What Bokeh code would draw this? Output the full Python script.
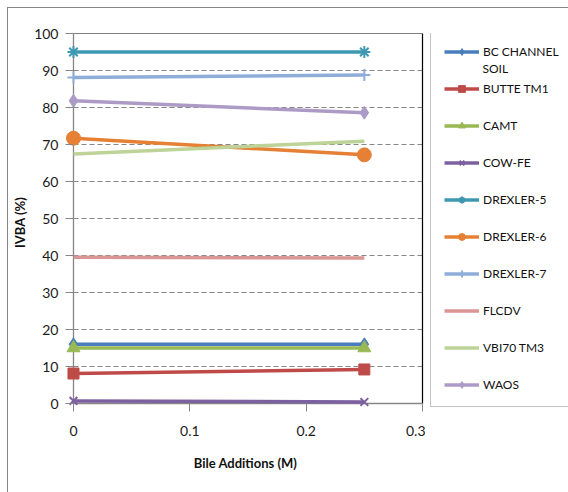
from bokeh.plotting import figure
from bokeh.layouts import row
from bokeh.models import Range1d, FixedTicker, Legend, LegendItem, Label
from bokeh.embed import file_html
from bokeh.resources import INLINE

# ---- data ----
bile = [0, 0.25]
series_names = ["BC CHANNEL", "BUTTE TM1", "CAMT", "COW-FE", "DREXLER-5",
                "DREXLER-6", "DREXLER-7", "FLCDV", "VBI70 TM3", "WAOS"]
first_name_second_line = "SOIL"
bc_channel_soil = [16.0, 16.0]
butte_tm1 = [8.1, 9.2]
camt = [15.0, 15.0]
cow_fe = [0.7, 0.4]
drexler_5 = [95.0, 95.0]
drexler_6 = [71.7, 67.2]
drexler_7 = [88.1, 88.8]
flcdv = [39.5, 39.3]
vbi70_tm3 = [67.4, 70.9]
waos = [81.8, 78.6]
x_ticks = [0, 0.1, 0.2, 0.3]
x_tick_labels = ["0", "0.1", "0.2", "0.3"]
y_ticks = [0, 10, 20, 30, 40, 50, 60, 70, 80, 90, 100]

values = [bc_channel_soil, butte_tm1, camt, cow_fe, drexler_5,
          drexler_6, drexler_7, flcdv, vbi70_tm3, waos]
colors = ["#4A7EBB", "#BE4B48", "#98B954", "#7D60A0", "#3D98B1",
          "#E58035", "#8EADD8", "#D99694", "#BDD397", "#AC9BC6"]
markers = ["diamond", "square", "triangle", "x", "asterisk",
           "circle", "cross", "dash", "dash", "diamond"]
msizes = [13, 11, 13, 11, 12, 14, 12, 1, 1, 13]

FONT = "Lato"
X0, X1 = 0.0, 0.3
Y0, Y1 = 0.0, 100.0
XPX = 1165.0            # pixels per x unit
YPX = 3.7               # pixels per y unit
PADX = 8 / XPX          # room so markers on the axes are not clipped
PADR = 3 / XPX
PADY = 8 / YPX
H = 484
W1 = 417
W2 = 560 - W1
MB_TOP, MB_BOTTOM = 25, 81
FRAME_H = H - MB_TOP - MB_BOTTOM

p = figure(width=W1, height=H, output_backend="svg", toolbar_location=None,
           x_range=Range1d(X0 - PADX, X1 + PADR), y_range=Range1d(Y0 - PADY, Y1),
           min_border_left=57, min_border_right=0, min_border_top=MB_TOP,
           min_border_bottom=MB_BOTTOM)
p.outline_line_color = None
p.background_fill_color = "white"
p.border_fill_color = "white"
p.xgrid.visible = False
p.ygrid.visible = False

# dashed horizontal gridlines between the axes
gy = y_ticks[1:-1]
p.segment(x0=[X0] * len(gy), y0=gy, x1=[X1] * len(gy), y1=gy,
          line_color="#868686", line_dash="5 3", line_width=1)
# plot-area frame: top and right black, axes grey
p.segment(x0=[X0, X1], y0=[Y1, Y0], x1=[X1, X1], y1=[Y1, Y1],
          line_color="black", line_width=1.2)
p.segment(x0=[X0, X0], y0=[Y0, Y0], x1=[X0, X1], y1=[Y1, Y0],
          line_color="#868686", line_width=1.3)

for ax in (p.xaxis[0], p.yaxis[0]):
    ax.axis_line_color = None
    ax.major_tick_line_color = "#868686"
    ax.major_tick_out = 0
    ax.major_tick_in = 8
    ax.minor_tick_line_color = None
    ax.major_label_text_font = FONT
    ax.major_label_text_font_size = "14px"
    ax.major_label_text_color = "#1a1a1a"
    ax.axis_label_text_font = FONT
    ax.axis_label_text_font_size = "13px"
    ax.axis_label_text_font_style = "bold"
    ax.axis_label_text_color = "#111111"

p.xaxis[0].ticker = FixedTicker(ticks=x_ticks)
p.xaxis[0].major_label_overrides = {t: l for t, l in zip(x_ticks, x_tick_labels)}
p.xaxis[0].major_label_standoff = 14
p.xaxis[0].axis_label = "Bile Additions (M)"
p.xaxis[0].axis_label_standoff = 16
p.yaxis[0].ticker = FixedTicker(ticks=y_ticks)
p.yaxis[0].major_label_standoff = 7
p.yaxis[0].axis_label = "IVBA (%)"
p.yaxis[0].axis_label_standoff = 3

# ---- legend panel: separate figure whose view lies away from the data ----
LX0 = 100  # x range starts here, so the series copies below fall outside the view
p2 = figure(width=W2, height=H, output_backend="svg", toolbar_location=None,
            x_range=Range1d(LX0, LX0 + W2), y_range=Range1d(0, FRAME_H),
            min_border_left=0, min_border_right=0, min_border_top=MB_TOP,
            min_border_bottom=MB_BOTTOM)
p2.axis.visible = False
p2.grid.visible = False
p2.outline_line_color = None
p2.background_fill_color = "white"
p2.border_fill_color = "white"

items = []
for name, vals, c, m, s in zip(series_names, values, colors, markers, msizes):
    w = 1 if m not in ("x", "asterisk", "cross") else 2
    p.line(bile, vals, line_color=c, line_width=3.5)
    if m != "dash":
        p.scatter(bile, vals, marker=m, size=s, fill_color=c, line_color=c, line_width=w)
    # same series in the legend panel (outside its view) to give legend swatches
    rends = [p2.line(bile, vals, line_color=c, line_width=3.5)]
    if m != "dash":
        rends.append(p2.scatter(bile, vals, marker=m, size=s, fill_color=c,
                                line_color=c, line_width=w))
    items.append(LegendItem(label=name, renderers=rends))

LEG_PAD, LEG_GW, LEG_STANDOFF = 13, 35, 4
LEG_X, LEG_Y = 5, 4
legend = Legend(items=items, location=(LEG_X, LEG_Y), orientation="vertical",
                label_text_font=FONT, label_text_font_size="12px",
                label_text_color="#111111",
                glyph_width=LEG_GW, glyph_height=17, label_height=17,
                label_standoff=LEG_STANDOFF, spacing=20, padding=LEG_PAD, margin=0,
                border_line_color="#868686", border_line_width=1,
                background_fill_color=None)
p2.add_layout(legend, "center")

# second line of the first legend entry
frame_bottom_page = 8 + H - MB_BOTTOM
p2.add_layout(Label(x=LX0 + LEG_X + LEG_PAD + LEG_GW + LEG_STANDOFF,
                    y=frame_bottom_page - 68,
                    text=first_name_second_line, level="overlay",
                    text_font=FONT, text_font_size="12px", text_color="#111111",
                    text_baseline="middle", text_align="left"))

layout = row(p, p2, spacing=0)
layout.styles = {"margin-left": "7px", "margin-top": "7px",
                 "border-left": "1px solid #868686", "border-top": "1px solid #868686"}

open("out.html", "w").write(file_html(layout, INLINE))
